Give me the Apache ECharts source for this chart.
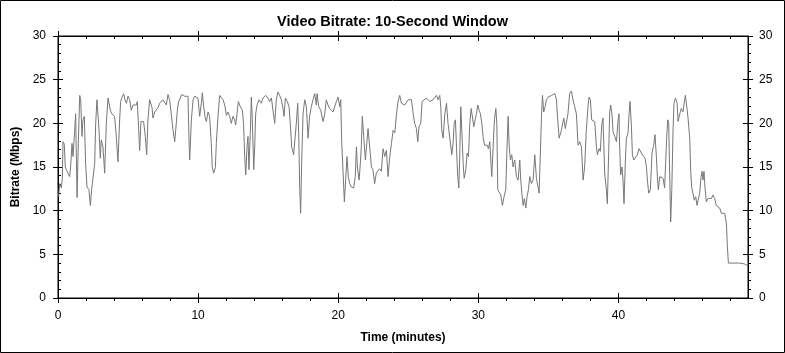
<!DOCTYPE html>
<html>
<head>
<meta charset="utf-8">
<script src="https://cdn.jsdelivr.net/npm/echarts@6/dist/echarts.min.js"></script>
<style>html,body{margin:0;padding:0;background:#fff}#c{width:785px;height:353px}</style>
</head>
<body>
<div id="c"></div>
<script>
const chartTitle = 'Video Bitrate: 10-Second Window';
const xName = 'Time (minutes)';
const yName = 'Bitrate (Mbps)';
const xTicks = [0, 10, 20, 30, 40];
const yTicks = [0, 5, 10, 15, 20, 25, 30];
const xMax = 49.25;

const minutes = [
0.05,0.12,0.24,0.31,0.36,0.45,0.52,0.59,0.71,0.83,0.90,1.00,1.07,1.19,1.26,1.36,1.45,1.55,1.62,1.71,1.78,1.88,1.97,2.07,2.21,2.31,2.40,2.50,2.62,2.69,2.78,2.85,2.93,3.02,3.09,3.21,3.33,3.45,3.57,3.64,3.74,3.83,3.93,4.04,4.16,4.28,4.40,4.47,4.57,4.69,4.78,4.88,5.00,5.12,5.23,5.35,5.47,5.59,5.66,5.76,5.83,5.92,6.02,6.11,6.23,6.33,6.42,6.54,6.61,6.71,6.78,6.90,7.02,7.14,7.26,7.38,7.49,7.61,7.73,7.85,7.97,8.09,8.21,8.33,8.40,8.52,8.61,8.73,8.83,8.92,9.04,9.16,9.28,9.35,9.40,9.52,9.64,9.75,9.87,9.99,10.11,10.23,10.30,10.40,10.49,10.59,10.71,10.82,10.94,11.01,11.11,11.23,11.30,11.42,
11.54,11.66,11.78,11.90,12.02,12.13,12.25,12.37,12.49,12.61,12.68,12.78,12.87,13.02,13.16,13.25,13.32,13.40,13.49,13.56,13.63,13.73,13.80,13.87,13.97,14.04,14.11,14.21,14.35,14.51,14.63,14.82,14.99,15.11,15.23,15.35,15.47,15.58,15.70,15.82,15.94,16.06,16.13,16.23,16.37,16.49,16.58,16.68,16.82,16.92,17.01,17.11,17.18,17.25,17.32,17.39,17.49,17.61,17.73,17.85,17.96,18.08,18.20,18.32,18.44,18.49,18.61,18.75,18.92,19.04,19.15,19.27,19.39,19.63,19.75,19.87,19.99,20.11,20.18,20.25,20.34,20.44,20.53,20.63,20.72,20.82,20.94,21.10,21.22,21.30,21.37,21.49,21.58,21.65,21.72,21.82,21.94,22.06,22.13,22.25,22.37,22.48,22.60,22.72,22.84,22.96,23.08,23.20,23.32,23.44,23.56,
23.68,23.80,23.92,24.04,24.16,24.27,24.39,24.51,24.63,24.75,24.87,24.99,25.11,25.23,25.35,25.46,25.58,25.68,25.77,25.89,25.99,26.06,26.30,26.54,26.65,26.77,26.89,27.01,27.13,27.25,27.32,27.39,27.49,27.61,27.73,27.84,27.92,28.01,28.11,28.20,28.28,28.37,28.46,28.53,28.61,28.68,28.75,28.82,28.92,28.99,29.11,29.20,29.30,29.39,29.49,29.58,29.68,29.77,29.87,29.96,30.06,30.15,30.25,30.34,30.44,30.53,30.63,30.72,30.82,30.89,30.96,31.06,31.15,31.25,31.32,31.39,31.48,31.60,31.72,31.84,31.96,32.05,32.13,32.20,32.29,32.39,32.48,32.60,32.72,32.84,32.96,33.03,33.12,33.20,33.29,33.39,33.48,33.58,33.67,33.79,33.91,34.03,34.15,34.27,34.34,34.43,34.51,34.58,34.67,34.77,34.86,34.98,35.10,35.22,35.34,35.46,35.58,35.65,35.77,
35.93,36.05,36.10,36.21,36.29,36.40,36.52,36.64,36.76,36.88,37.00,37.12,37.24,37.36,37.48,37.59,37.71,37.83,37.90,38.00,38.09,38.19,38.31,38.43,38.50,38.62,38.71,38.81,38.90,39.02,39.14,39.21,39.31,39.38,39.45,39.55,39.62,39.74,39.86,39.97,40.04,40.09,40.16,40.26,40.33,40.40,40.50,40.57,40.69,40.76,40.83,40.93,41.00,41.09,41.23,41.35,41.47,41.59,41.71,41.81,41.90,42.00,42.07,42.16,42.28,42.40,42.52,42.61,42.71,42.78,42.85,42.95,43.07,43.19,43.30,43.38,43.45,43.52,43.59,43.66,43.73,43.81,43.90,43.97,44.07,44.19,44.26,44.38,44.49,44.61,44.68,44.78,44.85,44.97,45.09,45.16,45.23,45.33,45.42,45.52,45.61,45.71,45.80,45.90,45.97,46.04,46.11,46.18,46.28,46.40,46.52,46.64,46.75,46.87,46.99,47.11,47.23,47.35,47.47,47.59,47.66,47.71,47.78,47.85,48.18,48.66,49.01,49.20
];

const mbps = [
11.6,13.1,12.6,13.7,17.9,17.6,15.0,14.7,14.9,13.9,15.0,17.7,16.2,19.2,21.1,11.5,17.7,23.2,22.7,18.5,20.4,20.8,15.4,12.7,12.4,10.6,12.4,12.6,15.4,20.0,22.7,22.9,19.2,16.0,18.1,17.3,14.3,20.0,22.9,23.1,21.5,21.1,21.3,20.8,18.5,15.6,20.4,22.5,23.0,23.4,22.7,22.3,23.1,22.7,21.5,22.1,22.3,22.1,22.5,19.2,16.9,20.2,20.0,20.2,18.5,16.4,20.4,22.7,22.9,21.8,20.6,21.3,21.1,21.8,22.3,22.5,22.7,22.9,22.1,23.3,22.7,21.0,19.2,17.9,19.2,21.5,22.5,22.9,23.3,23.3,23.1,23.3,23.1,18.1,15.8,20.4,22.7,23.1,23.3,22.9,20.8,22.3,23.5,21.9,20.8,20.2,21.3,20.8,17.7,15.0,14.3,14.9,17.7,20.8,
23.2,23.4,22.7,22.1,20.9,21.3,20.8,20.0,20.8,20.4,19.8,21.1,22.5,21.9,21.5,19.8,16.4,14.1,17.3,18.5,14.7,19.2,23.0,20.4,14.7,17.3,21.1,22.1,22.7,22.3,22.9,23.2,22.9,22.5,22.9,23.0,20.0,22.7,23.6,23.2,22.7,21.7,20.8,22.9,22.5,21.9,20.0,17.3,16.4,16.6,20.0,22.3,18.9,12.7,9.7,15.4,21.1,22.7,21.9,18.3,20.8,21.9,22.7,23.4,22.1,23.4,21.9,21.5,20.2,21.1,22.7,22.1,21.7,21.3,21.1,22.5,23.0,21.9,22.7,17.9,14.7,11.0,13.5,16.2,13.9,13.1,12.7,12.6,13.9,17.3,15.0,13.5,15.4,17.3,20.8,18.5,15.8,18.1,19.4,17.3,15.0,14.7,13.1,14.3,14.1,14.8,14.5,17.1,16.2,16.9,13.9,
16.2,17.7,19.2,18.9,21.1,22.5,23.2,22.3,22.5,22.1,22.3,22.7,22.5,22.7,21.1,20.0,19.4,17.9,19.6,20.0,22.5,22.7,22.9,22.5,22.3,22.7,22.9,23.2,22.7,23.2,21.9,19.2,18.3,21.1,22.3,20.0,18.9,18.9,16.4,17.7,20.0,20.4,16.6,13.9,12.6,16.6,21.9,19.2,15.4,13.7,14.7,16.6,16.2,20.0,21.7,21.5,19.6,20.4,21.1,22.1,21.5,21.1,20.0,18.5,17.5,17.3,17.5,17.1,17.9,15.8,13.9,17.3,20.4,21.7,20.0,12.4,12.2,11.8,10.6,11.6,12.4,17.3,20.8,17.5,15.8,16.4,15.0,15.8,13.9,13.5,15.8,13.5,11.8,10.6,11.4,10.3,11.6,12.4,13.9,13.1,13.5,16.4,13.7,13.5,12.0,16.6,20.8,23.2,21.3,21.9,22.7,23.0,22.9,23.2,23.0,23.4,22.7,20.8,18.3,
19.2,19.4,20.6,19.4,19.2,21.1,23.4,23.7,22.7,22.5,21.1,17.5,17.9,17.3,13.5,15.0,19.2,21.9,23.0,22.7,20.4,20.6,20.2,17.3,16.4,17.1,16.8,19.8,20.6,14.3,12.4,10.8,16.9,21.3,22.1,20.9,19.0,18.5,17.9,20.2,21.1,17.3,14.1,15.0,13.5,10.8,15.8,18.3,18.9,21.1,22.5,19.6,16.4,15.8,16.0,16.4,17.1,17.3,16.4,16.6,16.0,15.0,13.5,12.0,12.4,16.6,17.5,18.7,16.2,13.9,12.4,13.9,14.1,13.7,12.6,15.8,18.5,20.4,20.0,14.3,8.7,12.4,19.2,22.3,22.9,22.3,20.2,21.1,21.7,21.3,22.1,23.2,22.3,20.6,18.3,14.6,12.7,12.9,11.2,11.6,10.6,10.8,12.0,13.9,14.5,13.5,14.5,12.7,11.0,11.4,11.2,11.4,11.8,11.4,10.6,10.6,10.3,9.7,9.5,9.7,9.8,8.5,5.9,4.0,4.0,4.0,3.9,3.7
];

const FONT = '"Liberation Sans", Arial, sans-serif';
const black = '#000';
const seriesData = minutes.map((m, i) => [m, mbps[i]]);

function lineOn() { return { show: true, onZero: false, lineStyle: { color: black, width: 1 } }; }
function lineOff() { return { show: false, onZero: false }; }
function ticks(inside, custom) {
  const t = { show: true, inside: inside, length: 5, lineStyle: { color: black, width: 1 } };
  if (custom) t.customValues = custom;
  return t;
}
function minor(show) { return { show: show, splitNumber: 5, length: 3, lineStyle: { color: black, width: 1 } }; }

function xAxisCfg(pos, opts) {
  return Object.assign({
    type: 'value', position: pos, min: 0, max: xMax, interval: 10,
    splitLine: { show: false },
    axisLine: lineOff(),
    axisTick: ticks(false, xTicks),
    minorTick: minor(false),
    axisLabel: { show: false }
  }, opts);
}
function yAxisCfg(pos, opts) {
  return Object.assign({
    type: 'value', position: pos, min: 0, max: 30, interval: 5,
    splitLine: { show: false },
    axisLine: lineOff(),
    axisTick: ticks(false),
    minorTick: minor(false),
    axisLabel: { show: false }
  }, opts);
}
const labelStyle = { color: black, fontSize: 12, fontFamily: FONT };
const nameStyle = { color: black, fontSize: 12, fontWeight: 'bold', fontFamily: FONT };

const chart = echarts.init(document.getElementById('c'), null, { renderer: 'canvas' });
chart.setOption({
  animation: false,
  backgroundColor: '#fff',
  title: {
    text: chartTitle, left: 'center', top: 9,
    textStyle: { color: black, fontSize: 14.5, fontWeight: 'bold', fontFamily: FONT }
  },
  grid: { left: 58, right: 37, top: 36, bottom: 55, show: true, borderColor: black, borderWidth: 1, backgroundColor: 'transparent' },
  xAxis: [
    xAxisCfg('bottom', {
      axisLine: lineOn(),
      minorTick: minor(true),
      axisLabel: Object.assign({ show: true, margin: 12, customValues: xTicks }, labelStyle),
      name: xName, nameLocation: 'middle', nameGap: 34, nameTextStyle: nameStyle
    }),
    xAxisCfg('bottom', { axisTick: ticks(true, xTicks) }),
    xAxisCfg('top', {
      axisLine: lineOn(),
      axisTick: ticks(true, xTicks),
      minorTick: minor(true)
    }),
    xAxisCfg('top', {})
  ],
  yAxis: [
    yAxisCfg('left', {
      axisLine: lineOn(),
      axisLabel: Object.assign({ show: true, margin: 12, customValues: yTicks }, labelStyle),
      name: yName, nameLocation: 'middle', nameGap: 31, nameTextStyle: nameStyle
    }),
    yAxisCfg('left', {
      axisTick: ticks(true),
      minorTick: minor(true)
    }),
    yAxisCfg('right', {
      axisLine: lineOn(),
      minorTick: minor(true),
      axisLabel: Object.assign({ show: true, margin: 11, customValues: yTicks }, labelStyle)
    }),
    yAxisCfg('right', { axisTick: ticks(true) })
  ],
  series: [{
    type: 'line', xAxisIndex: 0, yAxisIndex: 0,
    data: seriesData, showSymbol: false, symbol: 'none',
    lineStyle: { color: '#777777', width: 1 }, z: 1
  }],
  graphic: [{
    type: 'rect', silent: true,
    shape: { x: 0.5, y: 0.5, width: 784, height: 352 },
    style: { fill: 'transparent', stroke: black, lineWidth: 1 }
  }]
});
</script>
</body>
</html>
